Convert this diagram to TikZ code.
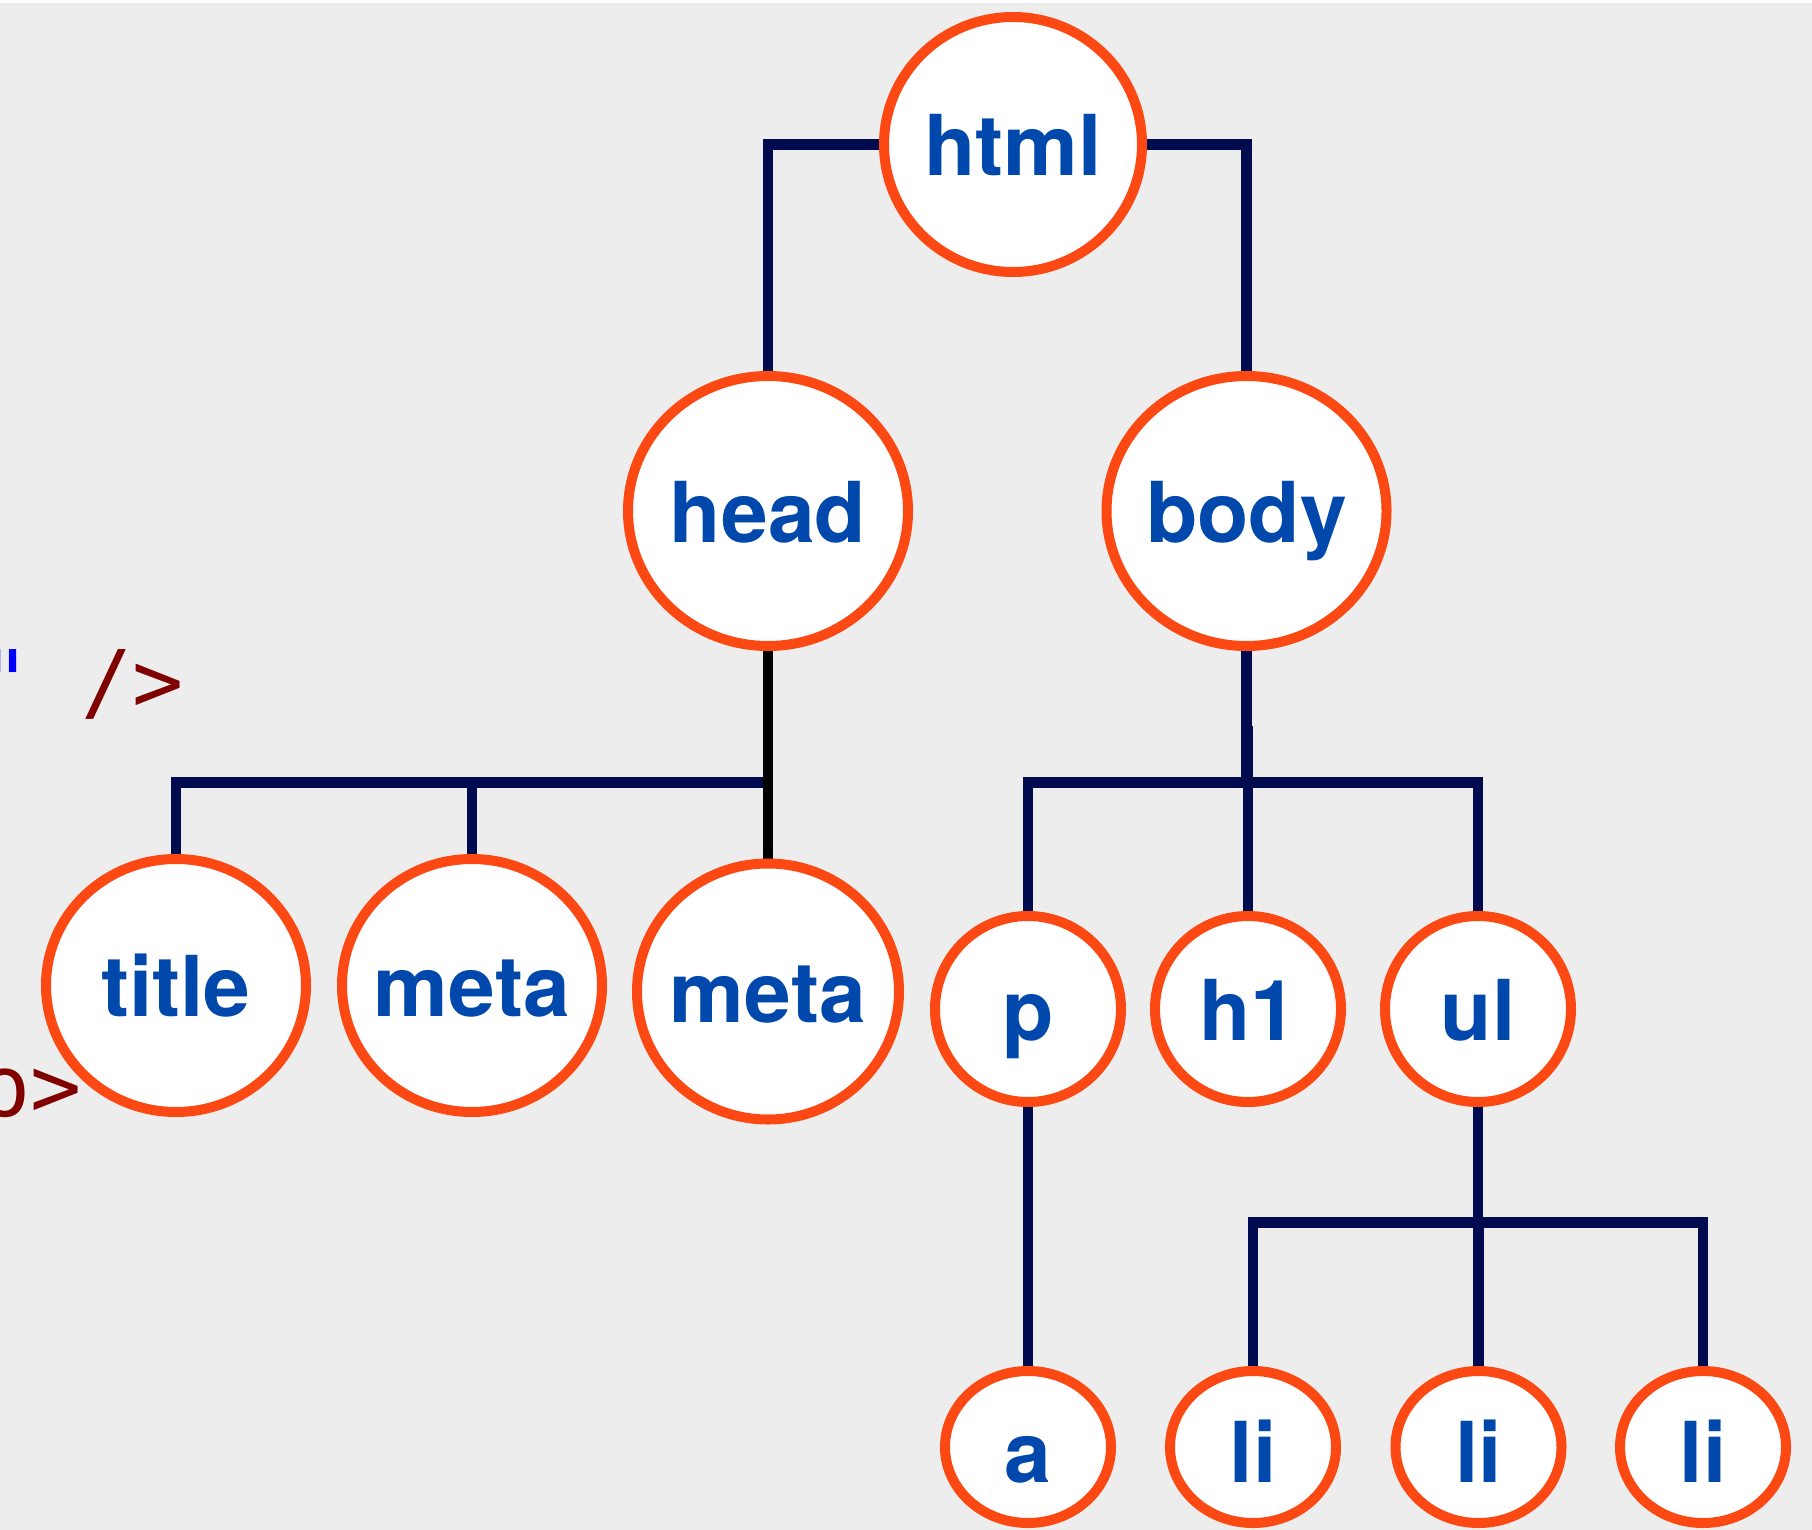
\documentclass[tikz,border=0pt]{standalone}
\usepackage{fontspec}
\setmainfont{TeX Gyre Heros}
\setmonofont{DejaVu Sans Mono}
\usetikzlibrary{shapes.geometric}

\definecolor{paper}{RGB}{237,237,237}
\definecolor{ring}{RGB}{252,72,18}
\definecolor{tagblue}{RGB}{0,72,171}
\definecolor{wirecol}{RGB}{0,11,80}
\definecolor{codered}{RGB}{128,0,0}
\definecolor{codeblue}{RGB}{0,0,255}

\pgfdeclarelayer{back}
\pgfdeclarelayer{wires}
\pgfsetlayers{back,wires,main}

% label centred on the node without widening it
\newcommand\tagtext[1]{\makebox[0pt]{#1}}

\begin{document}
\begin{tikzpicture}[x=1pt,y=-1pt,
  tagnode/.style={ellipse, draw=ring, line width=10pt, fill=white, inner sep=0pt,
    text=tagblue, font=\fontsize{84}{84}\selectfont\bfseries,
    text height=62pt, text depth=0pt},
  bignode/.style={tagnode, minimum width=280pt, minimum height=270pt},
  midnode/.style={tagnode, minimum width=260pt, minimum height=253pt},
  smallnode/.style={tagnode, minimum width=186pt, minimum height=186pt},
  leafnode/.style={tagnode, minimum width=166pt, minimum height=152pt,
    text height=70pt, text depth=0pt},
  wireline/.style={draw=wirecol, line width=10.5pt, line join=miter},
  blackline/.style={draw=black, line width=10.5pt},
  codetext/.style={font=\fontsize{85}{85}\selectfont\ttfamily, inner sep=0pt,
    anchor=base west, text=codered}
]
\useasboundingbox (0,0) rectangle (1812,1530);

% page background with a thin white strip along the top
\begin{pgfonlayer}{back}
  \fill[white] (0,0) rectangle (1812,1530);
  \fill[paper] (0,3) rectangle (1812,1530);
\end{pgfonlayer}

% fragments of source code along the left edge
\node[codetext] (frag1) at (-20.8,711) {\textcolor{codeblue}{"} />};
\node[codetext] (frag2) at (-20.4,1116) {o>};

% tree nodes
\node[tagnode, minimum width=258pt, minimum height=255pt] (html) at (1013,144.5) {\tagtext{html}};
\node[bignode] (head) at (768,511) {\tagtext{head}};
\node[bignode] (body) at (1246.5,511) {\tagtext{body}};
\node[midnode] (title) at (176,985.5) {\tagtext{title}};
\node[midnode] (meta1) at (472,985.5) {\tagtext{meta}};
\node[tagnode, minimum width=262pt, minimum height=256pt] (meta2) at (768,991.5) {\tagtext{meta}};
\node[smallnode] (p) at (1028,1009) {\tagtext{p}};
\node[smallnode] (h1) at (1248,1009) {\tagtext{h1}};
\node[smallnode] (ul) at (1478,1009) {\tagtext{ul}};
\node[leafnode] (a) at (1028,1447) {\tagtext{a}};
\node[leafnode] (li1) at (1253,1447) {\tagtext{li}};
\node[leafnode] (li2) at (1478.5,1447) {\tagtext{li}};
\node[leafnode] (li3) at (1703,1447) {\tagtext{li}};

% bar heights of the branching connectors
\coordinate (headbar) at (768,782.5);
\coordinate (bodybar) at (1246.5,782.5);
\coordinate (h1top) at (1248,726);
\coordinate (ulbar) at (1478,1222.5);

\begin{pgfonlayer}{wires}
  \draw[wireline] (html.west) -| (head.north);
  \draw[wireline] (html.east) -| (body.north);

  \draw[wireline] (title.north) |- (headbar);
  \draw[wireline] (meta1.north) -- (meta1.north |- headbar);

  \draw[wireline] (body.south) -- (bodybar);
  \draw[wireline] (p.north) |- (bodybar) -| (ul.north);
  \draw[wireline] (h1.north) -- (h1top);

  \draw[wireline] (p.south) -- (a.north);
  \draw[wireline] (ul.south) -- (ulbar);
  \draw[wireline] (li1.north) |- (ulbar) -| (li3.north);
  \draw[wireline] (li2.north) -- (li2.north |- ulbar);

  \draw[blackline] (head.south) -- (meta2.north);
\end{pgfonlayer}
\end{tikzpicture}
\end{document}
